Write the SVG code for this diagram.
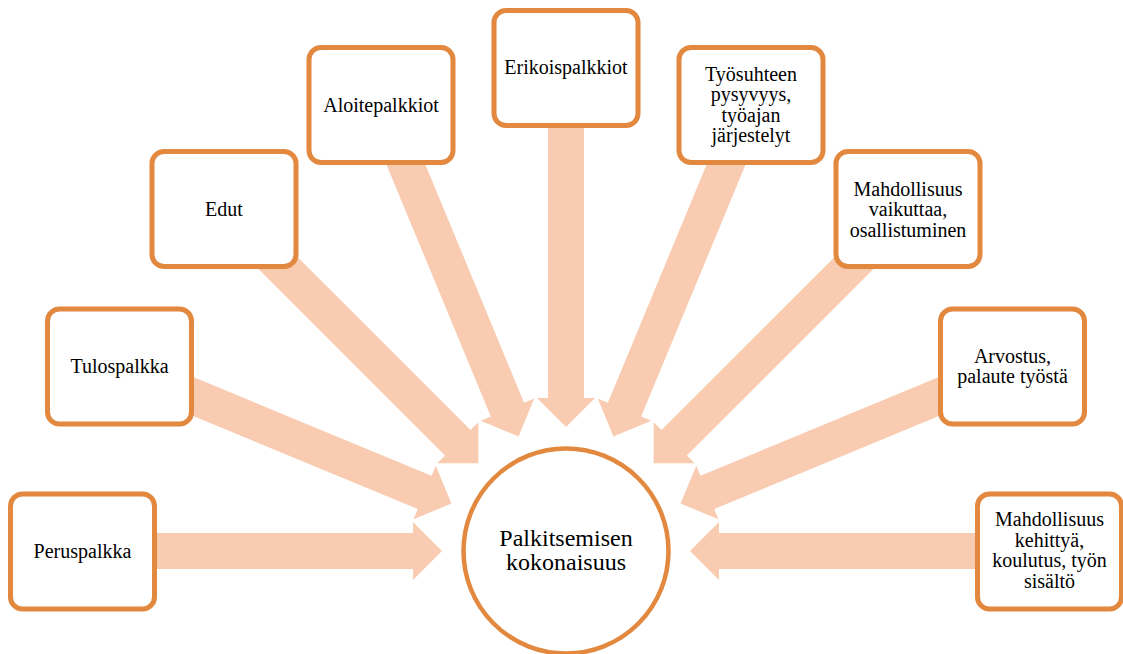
<svg xmlns="http://www.w3.org/2000/svg" xmlns:xlink="http://www.w3.org/1999/xlink" width="1123" height="654" viewBox="0 0 1123 654">
  <style>
    .box { fill: #FFFFFF; stroke: #E2883F; stroke-width: 5; }
    .hub { fill: #FFFFFF; stroke: #E2883F; stroke-width: 4.5; }
    .arrow { fill: #F9CBB1; stroke: none; }
    text { fill: #000000; text-anchor: middle; font-family: "Liberation Serif", "Times New Roman", Times, "DejaVu Serif", "Noto Serif", Georgia, serif; }
    .lbl { font-size: 20px; }
    .hubtxt { font-size: 24px; }
  </style>
  <defs>
    <polygon id="arr" class="arrow" points="-483,-18 -153,-18 -153,-29 -124,0 -153,29 -153,18 -483,18"/>
  </defs>
  <rect width="1123" height="654" fill="#FFFFFF"/>

  <g id="connectors">
    <use xlink:href="#arr" transform="translate(566,551) rotate(0)"/>
    <use xlink:href="#arr" transform="translate(566,551) rotate(22.5)"/>
    <use xlink:href="#arr" transform="translate(566,551) rotate(45)"/>
    <use xlink:href="#arr" transform="translate(566,551) rotate(67.5)"/>
    <use xlink:href="#arr" transform="translate(566,551) rotate(90)"/>
    <use xlink:href="#arr" transform="translate(566,551) rotate(112.5)"/>
    <use xlink:href="#arr" transform="translate(566,551) rotate(135)"/>
    <use xlink:href="#arr" transform="translate(566,551) rotate(157.5)"/>
    <use xlink:href="#arr" transform="translate(566,551) rotate(180)"/>
  </g>

  <g id="hub">
    <circle class="hub" cx="566" cy="551" r="102.5"/>
    <text class="hubtxt" x="566" y="546" font-family="Liberation Serif">Palkitsemisen</text>
    <text class="hubtxt" x="566" y="570" font-family="Liberation Serif">kokonaisuus</text>
  </g>

  <g id="peruspalkka">
    <rect class="box" x="10.5" y="494" width="144" height="115" rx="12"/>
    <text class="lbl" x="82.5" y="558">Peruspalkka</text>
  </g>

  <g id="tulospalkka">
    <rect class="box" x="47.5" y="309" width="144" height="115" rx="12"/>
    <text class="lbl" x="119.5" y="373">Tulospalkka</text>
  </g>

  <g id="edut">
    <rect class="box" x="152" y="151.5" width="144" height="115" rx="12"/>
    <text class="lbl" x="224" y="216">Edut</text>
  </g>

  <g id="aloitepalkkiot">
    <rect class="box" x="309" y="47.5" width="144" height="115" rx="12"/>
    <text class="lbl" x="381" y="111.5">Aloitepalkkiot</text>
  </g>

  <g id="erikoispalkkiot">
    <rect class="box" x="494" y="10.5" width="144" height="115" rx="12"/>
    <text class="lbl" x="566" y="74">Erikoispalkkiot</text>
  </g>

  <g id="tyosuhteen">
    <rect class="box" x="679" y="47.5" width="144" height="115" rx="12"/>
    <text class="lbl" x="751" y="80.5">Työsuhteen</text>
    <text class="lbl" x="751" y="101">pysyvyys,</text>
    <text class="lbl" x="751" y="121.5">työajan</text>
    <text class="lbl" x="751" y="142">järjestelyt</text>
  </g>

  <g id="vaikuttaa">
    <rect class="box" x="836" y="151.5" width="144" height="115" rx="12"/>
    <text class="lbl" x="908" y="195.5">Mahdollisuus</text>
    <text class="lbl" x="908" y="216">vaikuttaa,</text>
    <text class="lbl" x="908" y="236.5">osallistuminen</text>
  </g>

  <g id="arvostus">
    <rect class="box" x="940.5" y="309" width="144" height="115" rx="12"/>
    <text class="lbl" x="1012.5" y="362.5">Arvostus,</text>
    <text class="lbl" x="1012.5" y="383">palaute työstä</text>
  </g>

  <g id="kehittya">
    <rect class="box" x="977.5" y="494" width="144" height="115" rx="12"/>
    <text class="lbl" x="1049.5" y="526">Mahdollisuus</text>
    <text class="lbl" x="1049.5" y="546.5">kehittyä,</text>
    <text class="lbl" x="1049.5" y="567">koulutus, työn</text>
    <text class="lbl" x="1049.5" y="587.5">sisältö</text>
  </g>
</svg>
